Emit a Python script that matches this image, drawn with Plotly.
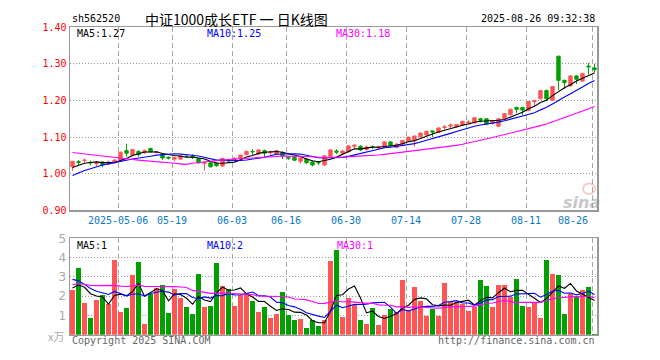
import pandas as pd
import plotly.graph_objects as go

symbol = "sh562520"
title = "中证1000成长ETF 一 日K线图"
timestamp = "2025-08-26 09:32:38"

holidays = ["2025-05-01", "2025-05-02", "2025-05-05", "2025-06-02"]
dates = [d.strftime("%Y-%m-%d") for d in pd.bdate_range("2025-04-21", "2025-08-26")
         if d.strftime("%Y-%m-%d") not in holidays]

open_ = [1.019, 1.033, 1.036, 1.031, 1.027, 1.032, 1.027, 1.030, 1.036, 1.063,
         1.051, 1.061, 1.057, 1.069, 1.058, 1.053, 1.045, 1.040, 1.040, 1.048,
         1.047, 1.041, 1.028, 1.030, 1.029, 1.021, 1.038, 1.038, 1.042, 1.052,
         1.061, 1.054, 1.063, 1.057, 1.053, 1.058, 1.044, 1.046, 1.034, 1.040,
         1.032, 1.031, 1.024, 1.047, 1.062, 1.056, 1.060, 1.075, 1.075, 1.066,
         1.073, 1.071, 1.072, 1.087, 1.072, 1.081, 1.089, 1.090, 1.101, 1.106,
         1.117, 1.113, 1.126, 1.130, 1.128, 1.133, 1.139, 1.139, 1.150, 1.150,
         1.138, 1.130, 1.150, 1.161, 1.181, 1.181, 1.173, 1.197, 1.205, 1.227,
         1.201, 1.321, 1.255, 1.240, 1.267, 1.253, 1.294, 1.289]
high = [1.034, 1.037, 1.042, 1.036, 1.034, 1.034, 1.036, 1.040, 1.060, 1.082,
        1.068, 1.064, 1.066, 1.071, 1.062, 1.055, 1.047, 1.047, 1.050, 1.050,
        1.053, 1.043, 1.034, 1.032, 1.031, 1.043, 1.040, 1.046, 1.052, 1.063,
        1.067, 1.067, 1.066, 1.063, 1.065, 1.061, 1.047, 1.048, 1.045, 1.042,
        1.035, 1.034, 1.051, 1.067, 1.067, 1.065, 1.078, 1.079, 1.078, 1.077,
        1.077, 1.076, 1.089, 1.089, 1.083, 1.092, 1.101, 1.104, 1.113, 1.118,
        1.118, 1.126, 1.133, 1.137, 1.136, 1.145, 1.146, 1.155, 1.153, 1.152,
        1.147, 1.151, 1.165, 1.177, 1.183, 1.183, 1.198, 1.200, 1.229, 1.230,
        1.239, 1.322, 1.257, 1.269, 1.269, 1.275, 1.302, 1.300]
low = [1.008, 1.024, 1.030, 1.023, 1.020, 1.018, 1.024, 1.028, 1.035, 1.047,
       1.049, 1.047, 1.055, 1.058, 1.055, 1.038, 1.039, 1.034, 1.038, 1.044,
       1.040, 1.027, 1.009, 1.017, 1.019, 1.019, 1.033, 1.035, 1.040, 1.050,
       1.052, 1.052, 1.043, 1.052, 1.051, 1.040, 1.038, 1.035, 1.028, 1.027,
       1.020, 1.024, 1.021, 1.045, 1.054, 1.052, 1.058, 1.068, 1.062, 1.063,
       1.068, 1.066, 1.070, 1.072, 1.070, 1.079, 1.087, 1.074, 1.099, 1.104,
       1.100, 1.111, 1.120, 1.125, 1.126, 1.131, 1.135, 1.137, 1.140, 1.133,
       1.134, 1.127, 1.148, 1.159, 1.166, 1.161, 1.171, 1.185, 1.203, 1.200,
       1.199, 1.229, 1.232, 1.238, 1.245, 1.251, 1.271, 1.276]
close = [1.034, 1.031, 1.037, 1.030, 1.030, 1.024, 1.032, 1.037, 1.059, 1.056,
         1.066, 1.052, 1.063, 1.060, 1.059, 1.043, 1.043, 1.044, 1.049, 1.047,
         1.045, 1.030, 1.031, 1.019, 1.022, 1.042, 1.035, 1.041, 1.051, 1.061,
         1.060, 1.065, 1.056, 1.060, 1.063, 1.049, 1.043, 1.037, 1.043, 1.030,
         1.024, 1.030, 1.049, 1.065, 1.059, 1.062, 1.076, 1.078, 1.065, 1.073,
         1.072, 1.073, 1.087, 1.077, 1.081, 1.091, 1.100, 1.103, 1.111, 1.116,
         1.114, 1.125, 1.128, 1.133, 1.134, 1.143, 1.141, 1.153, 1.146, 1.136,
         1.145, 1.150, 1.164, 1.176, 1.176, 1.174, 1.197, 1.199, 1.227, 1.205,
         1.238, 1.255, 1.249, 1.267, 1.258, 1.274, 1.292, 1.284]
volume = [2.30, 3.45, 1.65, 0.85, 1.80, 2.05, 1.60, 3.87, 1.20, 1.40,
          3.10, 3.75, 0.55, 2.10, 2.40, 2.60, 1.15, 2.35, 1.90, 1.45,
          1.05, 3.15, 1.45, 1.50, 3.70, 2.55, 2.35, 1.50, 2.05, 2.15,
          1.75, 1.20, 1.45, 0.85, 1.05, 2.20, 1.00, 0.75, 0.80, 0.35,
          0.75, 0.45, 0.75, 3.83, 4.42, 0.92, 1.92, 1.53, 0.75, 0.55,
          1.40, 0.50, 1.00, 1.35, 1.20, 2.85, 1.25, 2.50, 1.75, 0.95,
          1.33, 0.95, 2.70, 1.70, 1.70, 1.60, 1.25, 1.45, 2.85, 2.55,
          1.45, 2.60, 2.60, 1.95, 2.90, 1.50, 1.45, 1.65, 0.85, 3.90,
          3.15, 3.10, 1.05, 2.10, 1.95, 2.30, 2.45, 0.05]

# estimated sessions before the visible window (needed for the moving averages)
pre_close = [1.090, 1.095, 1.100, 1.105, 1.098, 1.092, 1.088, 1.095, 1.102, 1.108,
             1.104, 1.098, 1.094, 1.100, 1.096, 1.090, 1.094, 1.098, 1.087, 0.955,
             0.960, 0.970, 0.980, 0.975, 0.980, 1.000, 1.010, 1.020, 1.022]
pre_volume = [2.1, 2.4, 2.6, 2.2, 1.9, 2.5, 2.8, 2.3, 2.0, 2.2,
              2.4, 2.6, 2.1, 2.3, 2.5, 2.2, 2.0, 2.4, 2.3, 5.5,
              4.2, 3.5, 3.0, 3.2, 2.7, 2.6, 2.3, 2.5, 2.4]

tick_dates = ["2025-05-06", "2025-05-19", "2025-06-03", "2025-06-16", "2025-06-30",
              "2025-07-14", "2025-07-28", "2025-08-11", "2025-08-26"]
tick_text = ["2025-05-06", "05-19", "06-03", "06-16", "06-30", "07-14", "07-28", "08-11", "08-26"]
price_ticks = [0.90, 1.00, 1.10, 1.20, 1.30, 1.40]
vol_ticks = [1, 2, 3, 4, 5]
price_ma_labels = ["MA5:1.27", "MA10:1.25", "MA30:1.18"]
vol_ma_labels = ["MA5:1", "MA10:2", "MA30:1"]
vol_unit = "x万"
copyright_text = "Copyright 2025 SINA.COM"
url_text = "http://finance.sina.com.cn"


def moving_avg(pre, vals, n):
    s = pd.Series(list(pre) + list(vals))
    return s.rolling(n).mean().iloc[len(pre):].tolist()


RED = "#FF5555"
GREEN = "#00A000"
MA_COLORS = ["#000000", "#0000FF", "#FF00FF"]
MONO = "DejaVu Sans Mono"
W, H = 660, 360
X0, X1 = 70, 597
P_TOP, P_BOT = 21, 211
V_TOP, V_BOT = 240, 340


def fx(x):
    return x / W


def fy(y):
    return 1 - y / H


idx = list(range(len(dates)))
fig = go.Figure()

fig.add_trace(go.Candlestick(
    x=idx, open=open_, high=high, low=low, close=close,
    increasing=dict(line=dict(color=RED, width=1), fillcolor=RED),
    decreasing=dict(line=dict(color=GREEN, width=1), fillcolor=GREEN),
    whiskerwidth=0, xaxis="x", yaxis="y", hoverinfo="skip", showlegend=False))

for n, col in zip([5, 10, 30], MA_COLORS):
    fig.add_trace(go.Scatter(x=idx, y=moving_avg(pre_close, close, n), mode="lines",
                             line=dict(color=col, width=1.1), xaxis="x", yaxis="y",
                             hoverinfo="skip", showlegend=False))

bar_colors = [RED if c >= o else GREEN for o, c in zip(open_, close)]
fig.add_trace(go.Bar(x=idx, y=volume, marker=dict(color=bar_colors, line=dict(width=0)),
                     width=0.8, xaxis="x2", yaxis="y2", hoverinfo="skip", showlegend=False))

for n, col in zip([5, 10, 30], MA_COLORS):
    fig.add_trace(go.Scatter(x=idx, y=moving_avg(pre_volume, volume, n), mode="lines",
                             line=dict(color=col, width=1.1), xaxis="x2", yaxis="y2",
                             hoverinfo="skip", showlegend=False))

tickpos = [dates.index(d) - 0.4 for d in tick_dates]
xcommon = dict(domain=[fx(X0), fx(X1)], range=[-0.42, 87.42], tickvals=tickpos,
               showticklabels=False, ticks="", showgrid=True, gridcolor="#AAAAAA",
               griddash="5px,3px", gridwidth=1, showline=True, mirror=True,
               linecolor="#999999", linewidth=1.5, zeroline=False, fixedrange=True)

fig.update_layout(
    width=W, height=H, margin=dict(l=0, r=0, t=0, b=0),
    paper_bgcolor="white", plot_bgcolor="white", boxgap=0.2, bargap=0,
    xaxis=dict(anchor="y", rangeslider=dict(visible=False), **xcommon),
    xaxis2=dict(anchor="y2", **xcommon),
    yaxis=dict(domain=[fy(P_BOT), fy(P_TOP)], range=[0.90, 1.40], tickvals=price_ticks,
               ticktext=["%.2f" % v for v in price_ticks], tickfont=dict(family=MONO, size=10, color="#FF0000"),
               showgrid=True, gridcolor="#999999", griddash="1px,2px", gridwidth=1,
               showline=True, mirror=True, linecolor="#999999", linewidth=1.5,
               zeroline=False, ticks="", anchor="x", fixedrange=True),
    yaxis2=dict(domain=[fy(V_BOT), fy(V_TOP)], range=[0, 5], tickvals=vol_ticks,
                ticktext=[str(v) for v in vol_ticks], tickfont=dict(family="DejaVu Sans", size=12, color="#AAAAAA"),
                showgrid=True, gridcolor="#999999", griddash="1px,2px", gridwidth=1,
                showline=True, mirror=True, linecolor="#999999", linewidth=1.5,
                zeroline=False, ticks="", anchor="x2", fixedrange=True),
)

ann = []


def add_text(text, x, y, anchor="left", size=10, color="black", family=MONO, **kw):
    ann.append(dict(text=text, x=fx(x), y=fy(y), xref="paper", yref="paper", xanchor=anchor,
                    yanchor="middle", showarrow=False, font=dict(family=family, size=size, color=color), **kw))


add_text(symbol, 70, 12)
add_text(title, 236, 12, anchor="center", size=14, family="Noto Sans CJK SC")
add_text(timestamp, 597, 12, anchor="right")
for lab, xx, col in zip(price_ma_labels, [75, 205, 334], MA_COLORS):
    add_text(lab, xx, 28, color=col)
for lab, xx, col in zip(vol_ma_labels, [75, 205, 335], MA_COLORS):
    add_text(lab, xx, 247, color=col)
add_text(vol_unit, 66, 341, anchor="right", size=11, color="#AAAAAA", family="Noto Sans CJK SC")
add_text(copyright_text, 70, 346, color="#666666")
add_text(url_text, 597, 346, anchor="right", color="#666666")
add_text("<b><i>sina</i></b>", 581, 203, anchor="center", size=16, color="rgba(150,150,150,0.55)",
         family="DejaVu Sans")

for k, (tp, tt) in enumerate(zip(tickpos, tick_text)):
    last = k == len(tickpos) - 1
    ann.append(dict(text=tt, x=tp, y=fy(221), xref="x", yref="paper",
                    xanchor="right" if last else "center", xshift=-2 if last else 0,
                    yanchor="middle", showarrow=False,
                    font=dict(family=MONO, size=10, color="#0A78C8")))

fig.update_layout(annotations=ann)
fig.add_shape(type="circle", xref="paper", yref="paper",
              x0=fx(583), x1=fx(595), y0=fy(194), y1=fy(183),
              line=dict(color="rgba(230,110,110,0.35)", width=2), fillcolor="rgba(0,0,0,0)")

fig.write_html("out.html", config={"displayModeBar": False, "staticPlot": True},
               post_script="document.body.style.margin='0';document.body.style.overflow='hidden';")
